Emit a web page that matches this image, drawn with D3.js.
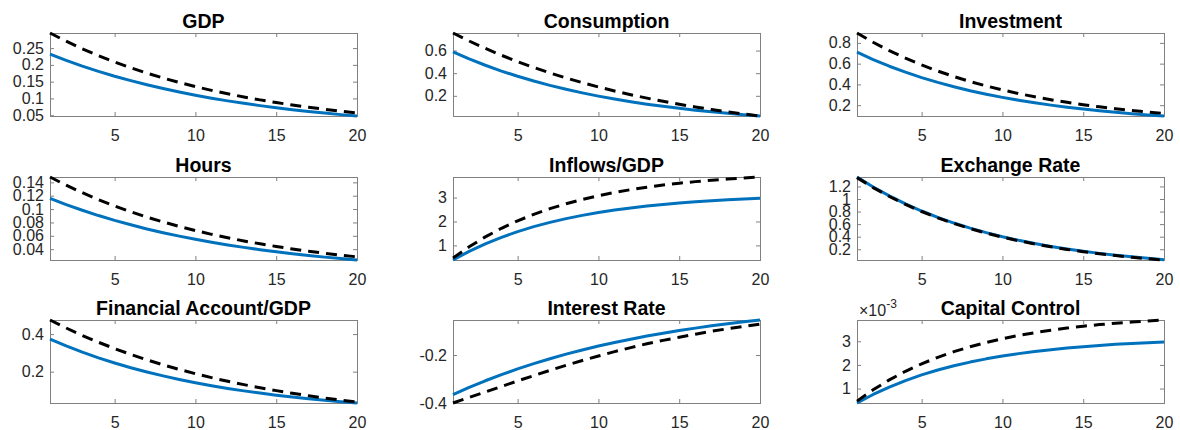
<!DOCTYPE html>
<html><head><meta charset="utf-8">
<script src="https://cdn.jsdelivr.net/npm/d3@7"></script>
<style>body{margin:0;background:#fff}svg{display:block}</style>
</head><body><svg id="c" width="1180" height="430"></svg>
<script>
const periods = [1,2,3,4,5,6,7,8,9,10,11,12,13,14,15,16,17,18,19,20];
const xTicks = [5,10,15,20];

const gdpBlue = [0.232,0.2134,0.1964,0.1807,0.1662,0.1529,0.1407,0.1294,0.1191,0.1096,0.1008,0.0927,0.0853,0.0785,0.0722,0.0664,0.0611,0.0562,0.0517,0.0476];
const gdpDash = [0.295,0.2705,0.2481,0.2275,0.2086,0.1913,0.1754,0.1608,0.1475,0.1353,0.124,0.1137,0.1043,0.0956,0.0877,0.0804,0.0737,0.0676,0.062,0.0569];
const gdpTicks = [0.05,0.1,0.15,0.2,0.25];

const consBlue = [0.588,0.5261,0.4699,0.4188,0.3725,0.3304,0.2922,0.2575,0.226,0.1974,0.1714,0.1478,0.1264,0.1069,0.0893,0.0732,0.0587,0.0455,0.0335,0.0226];
const consDash = [0.755,0.6843,0.6189,0.5583,0.5022,0.4503,0.4021,0.3575,0.3163,0.2781,0.2427,0.21,0.1796,0.1515,0.1256,0.1014,0.0791,0.0585,0.0393,0.0217];
const consTicks = [0.2,0.4,0.6];

const invBlue = [0.71,0.639,0.5751,0.5176,0.4658,0.4193,0.3773,0.3396,0.3057,0.2751,0.2476,0.2228,0.2005,0.1805,0.1624,0.1462,0.1316,0.1184,0.1066,0.0959];
const invDash = [0.895,0.8055,0.725,0.6525,0.5872,0.5285,0.4756,0.4281,0.3853,0.3467,0.3121,0.2809,0.2527,0.2275,0.2048,0.1843,0.1658,0.1493,0.1343,0.1209];
const invTicks = [0.2,0.4,0.6,0.8];

const hoursBlue = [0.116,0.1067,0.0982,0.0903,0.0831,0.0765,0.0703,0.0647,0.0595,0.0548,0.0504,0.0464,0.0427,0.0392,0.0361,0.0332,0.0306,0.0281,0.0259,0.0238];
const hoursDash = [0.148,0.1357,0.1245,0.1141,0.1047,0.096,0.088,0.0807,0.074,0.0679,0.0622,0.0571,0.0523,0.048,0.044,0.0403,0.037,0.0339,0.0311,0.0285];
const hoursTicks = [0.04,0.06,0.08,0.1,0.12,0.14];

const inflBlue = [0.39,0.751,1.065,1.338,1.576,1.783,1.963,2.119,2.256,2.374,2.477,2.567,2.645,2.713,2.772,2.823,2.868,2.907,2.941,2.97];
const inflDash = [0.47,0.944,1.357,1.716,2.028,2.3,2.536,2.742,2.921,3.076,3.212,3.33,3.432,3.521,3.599,3.666,3.725,3.776,3.821,3.859];
const inflTicks = [1,2,3];

const exBlue = [1.35,1.191,1.049,0.9222,0.8088,0.7077,0.6172,0.5365,0.4642,0.3998,0.3422,0.2908,0.2449,0.2037,0.1671,0.1343,0.1051,0.0789,0.0555,0.0346];
const exDash = [1.34,1.1816,1.04,0.9137,0.8006,0.6998,0.6097,0.5292,0.4572,0.393,0.3355,0.2843,0.2386,0.1976,0.1611,0.1284,0.0993,0.0731,0.0498,0.029];
const exTicks = [0.2,0.4,0.6,0.8,1,1.2];

const faBlue = [0.373,0.3368,0.3037,0.2735,0.2461,0.221,0.1982,0.1773,0.1583,0.141,0.1253,0.1108,0.0977,0.0858,0.0748,0.0649,0.0558,0.0475,0.04,0.0331];
const faDash = [0.475,0.4323,0.3928,0.3564,0.3227,0.2916,0.2628,0.2363,0.2117,0.189,0.168,0.1486,0.1308,0.1142,0.0989,0.0848,0.0718,0.0597,0.0486,0.0383];
const faTicks = [0.2,0.4];

const irBlue = [-0.365,-0.335,-0.3073,-0.2816,-0.2578,-0.2358,-0.2154,-0.1964,-0.1789,-0.1627,-0.1478,-0.1339,-0.121,-0.1091,-0.0981,-0.0878,-0.0784,-0.0696,-0.0615,-0.054];
const irDash = [-0.4,-0.377,-0.354,-0.331,-0.308,-0.286,-0.264,-0.243,-0.223,-0.204,-0.186,-0.169,-0.153,-0.139,-0.126,-0.113,-0.101,-0.0905,-0.0805,-0.0709];
const irTicks = [-0.4,-0.2];

const ccBlue = [0.39e-3,0.751e-3,1.065e-3,1.338e-3,1.576e-3,1.783e-3,1.963e-3,2.119e-3,2.256e-3,2.374e-3,2.477e-3,2.567e-3,2.645e-3,2.713e-3,2.772e-3,2.823e-3,2.868e-3,2.907e-3,2.941e-3,2.97e-3];
const ccDash = [0.47e-3,0.95e-3,1.367e-3,1.73e-3,2.046e-3,2.321e-3,2.56e-3,2.768e-3,2.949e-3,3.107e-3,3.243e-3,3.363e-3,3.466e-3,3.556e-3,3.635e-3,3.703e-3,3.763e-3,3.814e-3,3.859e-3,3.898e-3];
const ccTicks = [1e-3,2e-3,3e-3];
const ccTickLabels = ["1","2","3"];

const titles = ["GDP","Consumption","Investment","Hours","Inflows/GDP","Exchange Rate","Financial Account/GDP","Interest Rate","Capital Control"];

const panels = [
  {blue:gdpBlue, dash:gdpDash, ticks:gdpTicks},
  {blue:consBlue, dash:consDash, ticks:consTicks},
  {blue:invBlue, dash:invDash, ticks:invTicks},
  {blue:hoursBlue, dash:hoursDash, ticks:hoursTicks},
  {blue:inflBlue, dash:inflDash, ticks:inflTicks},
  {blue:exBlue, dash:exDash, ticks:exTicks},
  {blue:faBlue, dash:faDash, ticks:faTicks},
  {blue:irBlue, dash:irDash, ticks:irTicks},
  {blue:ccBlue, dash:ccDash, ticks:ccTicks, labels:ccTickLabels, exponent:"-3"}
];

const svg = d3.select("#c");
const colLeft = [50,453,857], plotW = 307;
const rowTop = [33,177,320], plotH = 83;
const font = "'Liberation Sans', Arial, Helvetica, sans-serif";
const axisColor = "#808080", textColor = "#262626";

panels.forEach((p,i) => {
  const col = i % 3, row = Math.floor(i/3);
  const g = svg.append("g").attr("transform", `translate(${colLeft[col]},${rowTop[row]})`);
  const x = d3.scaleLinear().domain(d3.extent(periods)).range([0, plotW]);
  const y = d3.scaleLinear().domain(d3.extent(p.blue.concat(p.dash))).range([plotH, 0]);
  const fmt = p.labels ? (d => p.labels[p.ticks.indexOf(d)]) : (d => String(d));

  const styleAxis = sel => {
    sel.select(".domain").remove();
    sel.selectAll(".tick line").attr("stroke", axisColor).attr("stroke-width", 1);
    sel.selectAll(".tick text").attr("fill", textColor).style("font-family", font).style("font-size", "16px");
  };
  g.append("g").attr("transform", `translate(0,${plotH})`)
    .call(d3.axisBottom(x).tickValues(xTicks).tickSizeInner(-4).tickSizeOuter(0).tickPadding(14))
    .call(styleAxis);
  g.append("g")
    .call(d3.axisTop(x).tickValues(xTicks).tickSizeInner(-4).tickSizeOuter(0).tickFormat(""))
    .call(styleAxis);
  g.append("g")
    .call(d3.axisLeft(y).tickValues(p.ticks).tickFormat(fmt).tickSizeInner(-4).tickSizeOuter(0).tickPadding(6))
    .call(styleAxis);
  g.append("g").attr("transform", `translate(${plotW},0)`)
    .call(d3.axisRight(y).tickValues(p.ticks).tickSizeInner(-4).tickSizeOuter(0).tickFormat(""))
    .call(styleAxis);
  g.append("rect").attr("x",0).attr("y",0).attr("width",plotW).attr("height",plotH)
    .attr("fill","none").attr("stroke",axisColor).attr("stroke-width",1).attr("shape-rendering","crispEdges");

  const line = d3.line().x((d,k) => x(periods[k])).y(d => y(d));
  g.append("path").datum(p.blue).attr("d", line)
    .attr("fill","none").attr("stroke","#0072BD").attr("stroke-width",3).attr("stroke-linejoin","round");
  g.append("path").datum(p.dash).attr("d", line)
    .attr("fill","none").attr("stroke","#000").attr("stroke-width",3).attr("stroke-dasharray","11,7");

  g.append("text").attr("x", plotW/2).attr("y", -5).attr("text-anchor","middle")
    .style("font-family", font).style("font-size","19.5px").style("font-weight","bold").attr("fill","#000")
    .text(titles[i]);

  if (p.exponent) {
    const t = g.append("text").attr("x", 2).attr("y", -4)
      .style("font-family", font).style("font-size","16px").attr("fill", textColor);
    t.append("tspan").text("\u00d710");
    t.append("tspan").attr("dy", -8).style("font-size","12px").text(p.exponent);
  }
});
</script></body></html>
